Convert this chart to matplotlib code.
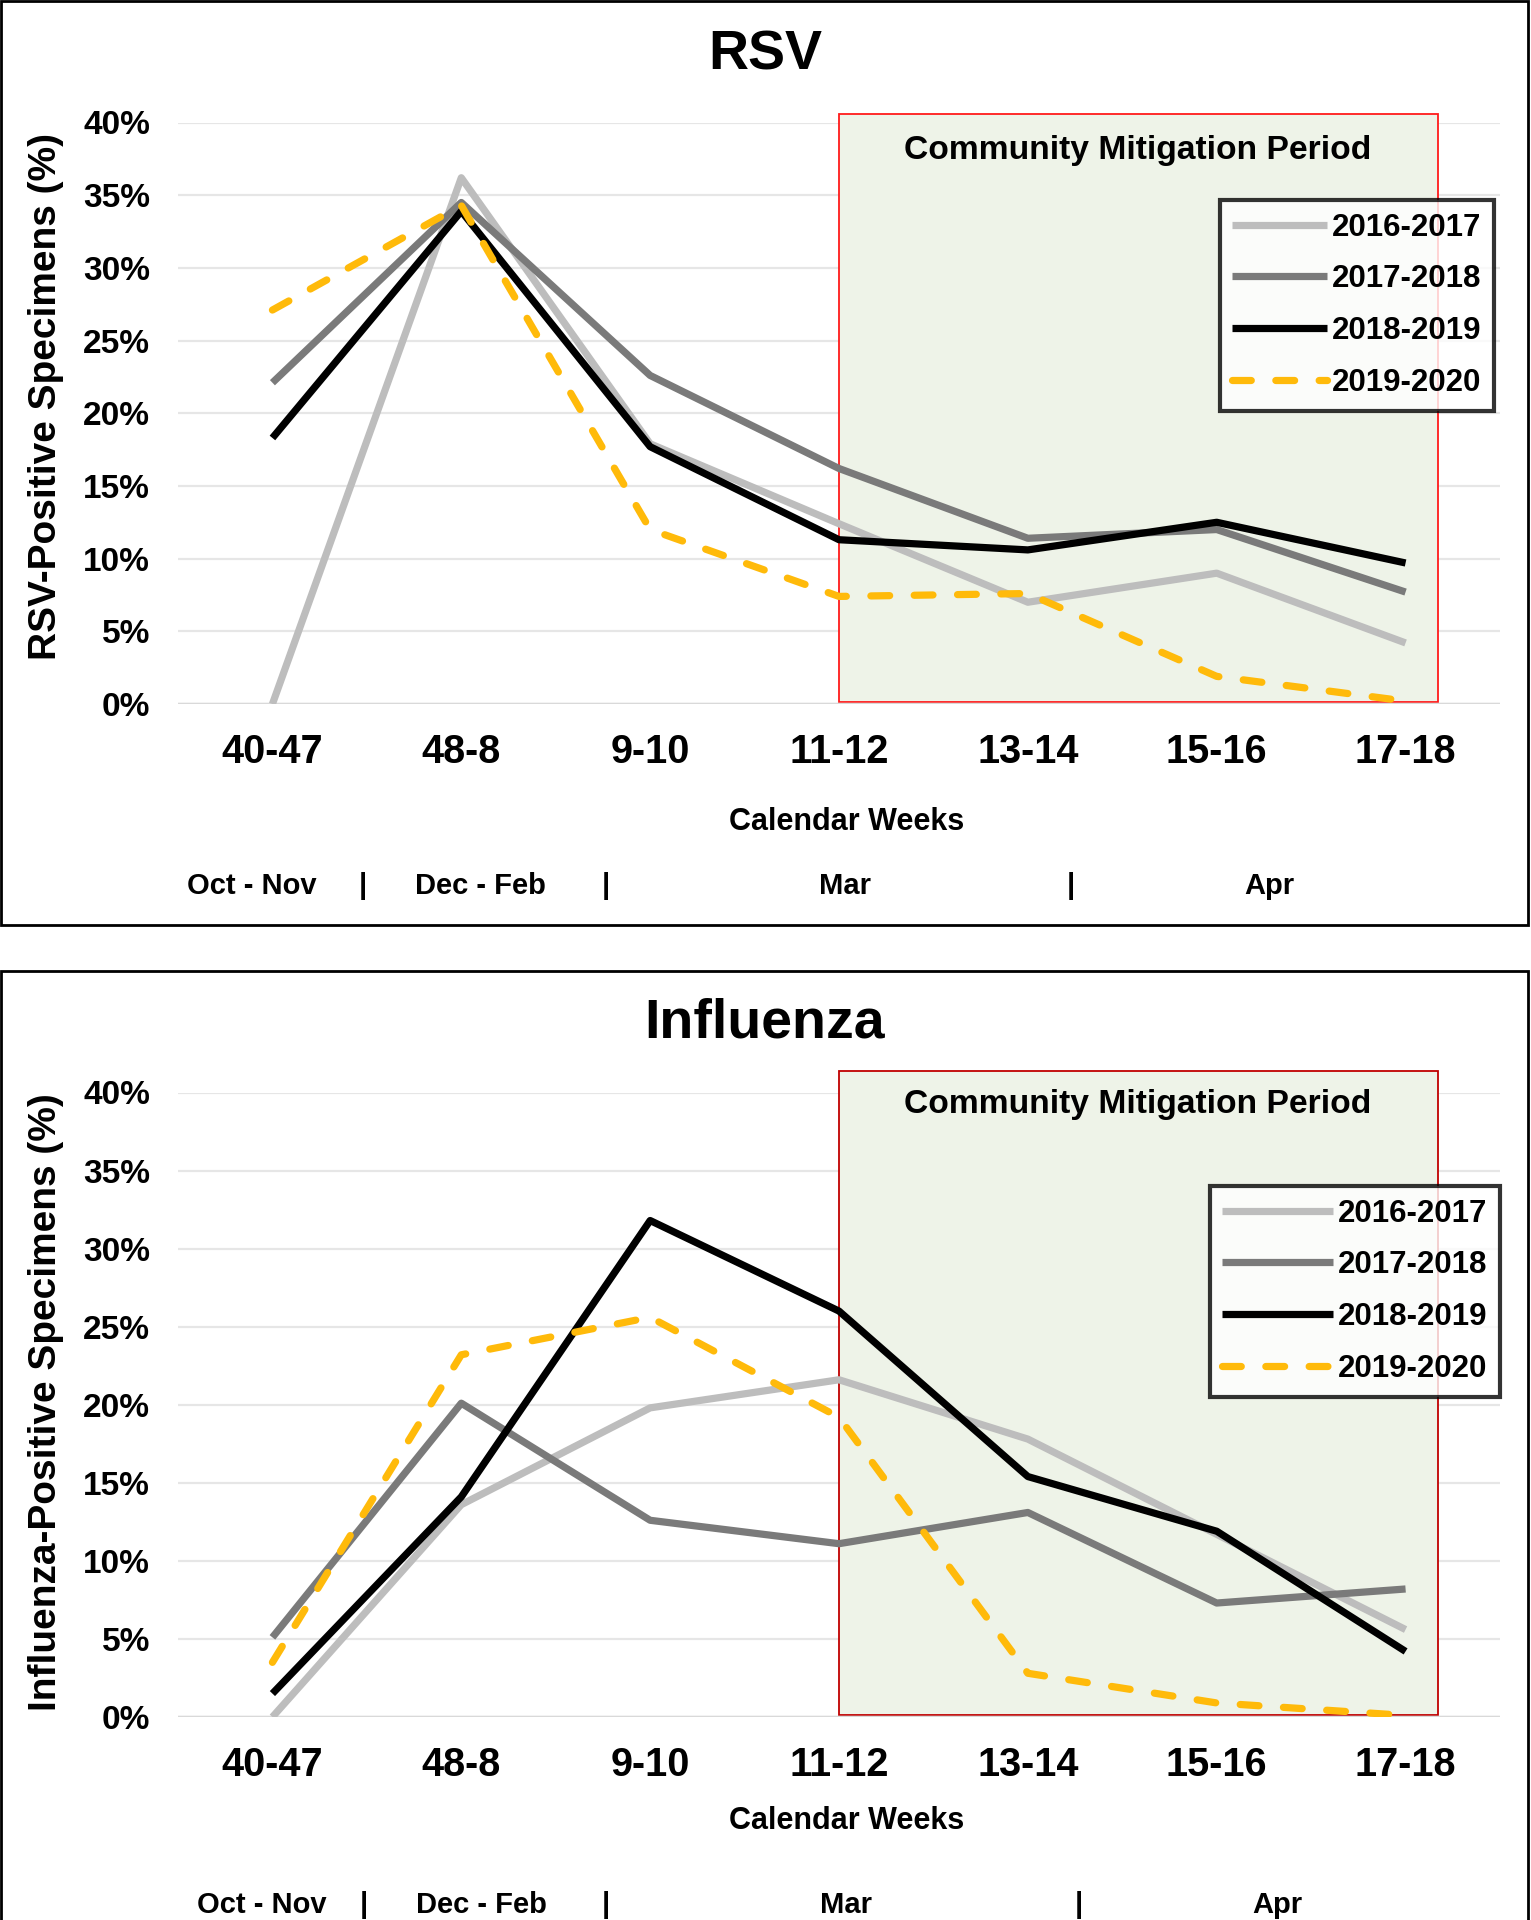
import matplotlib
matplotlib.use("Agg")
import matplotlib.pyplot as plt
from matplotlib.patches import Rectangle

plt.rcParams['font.family'] = ['Liberation Sans', 'DejaVu Sans']
plt.rcParams['font.weight'] = 'bold'

weeks = ["40-47", "48-8", "9-10", "11-12", "13-14", "15-16", "17-18"]
seasons = ["2016-2017", "2017-2018", "2018-2019", "2019-2020"]

rsv_1617 = [0.0, 36.2, 17.9, 12.4, 7.0, 9.0, 4.2]
rsv_1718 = [22.1, 34.5, 22.6, 16.2, 11.4, 12.0, 7.7]
rsv_1819 = [18.3, 33.9, 17.7, 11.3, 10.6, 12.5, 9.7]
rsv_1920 = [27.1, 34.3, 12.0, 7.4, 7.6, 1.9, 0.2]

flu_1617 = [0.0, 13.6, 19.8, 21.6, 17.8, 11.7, 5.6]
flu_1718 = [5.1, 20.1, 12.6, 11.1, 13.1, 7.3, 8.2]
flu_1819 = [1.5, 14.1, 31.8, 26.0, 15.4, 11.9, 4.2]
flu_1920 = [3.5, 23.2, 25.6, 19.2, 2.8, 0.9, 0.1]

yticks = [0, 5, 10, 15, 20, 25, 30, 35, 40]
months = ["Oct - Nov", "|", "Dec - Feb", "|", "Mar", "|", "Apr"]

W, H = 1531, 1920
fig = plt.figure(figsize=(W / 100, H / 100), dpi=100)

styles = [
    dict(color="#bdbdbd", lw=5.2, solid_capstyle="butt"),
    dict(color="#7a7a7a", lw=5.2, solid_capstyle="butt"),
    dict(color="#000000", lw=5.2, solid_capstyle="butt"),
    dict(color="#ffba0a", lw=5.2, dashes=(2.6, 3.4), dash_capstyle="round"),
]


def fx(px):
    return px / W


def fy(py):
    return 1 - py / H


def panel(series, title, ylabel, ax_top, ax_bot, frame_top, frame_bot, ylab_y,
          title_y, mit_y, rect_top, edge, leg_anchor, hlen, cw_y, month_y, month_x):
    # outer frame
    fig.patches.append(Rectangle((fx(1), fy(frame_bot)), fx(1527), (frame_bot - frame_top) / H,
                                 transform=fig.transFigure, fill=False, ec="black", lw=2))
    ax = fig.add_axes([fx(178), fy(ax_bot), fx(1500 - 178), (ax_bot - ax_top) / H])
    x = list(range(len(weeks)))
    ax.add_patch(Rectangle((3, 0.15), 3.17, rect_top - 0.15, fc="#eef3e8", ec=edge, lw=1.3,
                           clip_on=False, zorder=1))
    for vals, lab, st in zip(series, seasons, styles):
        ax.plot(x, vals, label=lab, zorder=3, **st)
    ax.set_xlim(-0.5, 6.5)
    ax.set_ylim(0, 40)
    ax.set_yticks(yticks)
    ax.set_yticklabels([f"{v}%" for v in yticks], fontsize=24, fontweight="bold")
    ax.set_xticks(x)
    ax.set_xticklabels(weeks, fontsize=28.5, fontweight="bold")
    ax.tick_params(axis="x", length=0, pad=21)
    ax.tick_params(axis="y", length=0, pad=20)
    for s in ax.spines.values():
        s.set_visible(False)
    ax.grid(axis="y", color="#e6e6e6", lw=1.6, zorder=0)
    ax.axhline(0, color="#d9d9d9", lw=2.5, zorder=2)
    ax.set_axisbelow(True)
    ax.text(4.58, mit_y, "Community Mitigation Period", ha="center", va="center",
            fontsize=24.2, fontweight="bold", zorder=4)
    leg = ax.legend(loc="upper right", bbox_to_anchor=leg_anchor, bbox_transform=fig.transFigure,
                    fontsize=22.5, frameon=True, fancybox=False, edgecolor="black",
                    handlelength=hlen, handletextpad=0.15, labelspacing=0.7,
                    borderpad=0.4, borderaxespad=0)
    leg.get_frame().set_linewidth(3)
    leg.set_zorder(5)
    for t in leg.get_texts():
        t.set_fontweight("bold")
    fig.text(fx(765), fy(title_y), title, ha="center", va="center", fontsize=40, fontweight="bold")
    fig.text(fx(46), fy(ylab_y), ylabel, rotation=90, ha="center",
             va="center", fontsize=28, fontweight="bold")
    fig.text(fx(847), fy(cw_y), "Calendar Weeks", ha="center", va="center",
             fontsize=22, fontweight="bold")
    for m, mx in zip(months, month_x):
        fig.text(fx(mx), fy(month_y), m, ha="center", va="center", fontsize=21, fontweight="bold")


panel([rsv_1617, rsv_1718, rsv_1819, rsv_1920], "RSV", "RSV-Positive Specimens (%)",
      ax_top=122.5, ax_bot=704, frame_top=1, frame_bot=925, ylab_y=397,
      title_y=55, mit_y=38.1, rect_top=40.6, edge="#ff1a1a",
      leg_anchor=(fx(1494), fy(200)), hlen=3.05, cw_y=822, month_y=886,
      month_x=[252, 363, 480, 606, 845, 1071, 1269])

panel([flu_1617, flu_1718, flu_1819, flu_1920], "Influenza", "Influenza-Positive Specimens (%)",
      ax_top=1092.5, ax_bot=1717, frame_top=971, frame_bot=1960, ylab_y=1402,
      title_y=1023, mit_y=39.2, rect_top=41.4, edge="#c00000",
      leg_anchor=(fx(1500), fy(1186)), hlen=3.55, cw_y=1821, month_y=1905,
      month_x=[262, 364, 481, 606, 846, 1079, 1277])

plt.savefig("out.png", dpi=100)
plt.close()
